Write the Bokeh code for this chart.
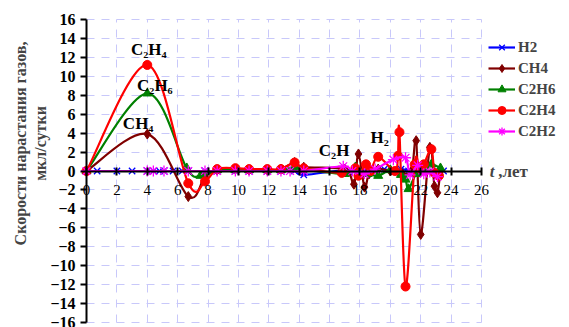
import math
from bokeh.plotting import figure
from bokeh.models import Range1d, FixedTicker, Label, Legend, LegendItem
from bokeh.embed import file_html
from bokeh.resources import INLINE

# ---------------- data ----------------
H2_t = [0, 0.7, 2, 3, 4, 4.4, 4.8, 5.1, 5.7, 6.3, 6.7, 7.8, 8.6, 9.8, 10.7, 11.9, 12.8, 13.7, 14.3,
        17, 17.6, 18.3, 19.0, 19.6, 20.2, 20.7, 21.2, 21.6, 22.0, 22.5, 23.0, 23.5]
H2_v = [0, 0, 0, 0, 0, 0, 0, 0, 0, 0, 0, 0, 0, 0, 0, 0, 0, 0, -0.4,
        0.1, -0.1, 0.0, 0.1, 0.2, -0.1, 0.2, 0.0, -0.2, 0.1, -0.1, 0.1, 0.0]

CH4_t = [0, 4, 6.7, 7.8, 8.6, 9.8, 10.7, 11.9, 12.8, 13.7, 14.3, 17, 17.6, 17.9, 18.3, 18.6,
         19.2, 20.0, 20.8, 21.4, 21.7, 22.0, 22.6, 22.9, 23.1, 23.3]
CH4_v = [0, 3.9, -2.7, -0.6, 0.1, 0.2, 0.1, 0.1, 0.2, 0.9, 0.4, 0.2, -1.4, 1.8, -1.7, -0.3,
         0.2, 0.0, -0.3, 0.0, 3.2, -6.7, 2.5, -1.6, -2.3, 0.0]

C2H6_t = [0, 4, 6.6, 7.5, 8.6, 9.8, 10.7, 11.9, 12.8, 13.7, 14.3, 17, 17.7, 18.5, 19.2, 20.0,
          20.7, 21.0, 21.2, 21.7, 22.2, 22.7, 23.3]
C2H6_v = [0, 8.2, 0.3, -0.5, 0.1, 0.1, 0.1, 0.1, 0.1, 0.4, 0.2, -0.3, 0.4, -0.3, -0.5, 0.1,
          -0.4, -0.9, -1.9, -0.3, 0.0, 0.7, 0.3]

C2H4_t = [0, 4, 6.7, 7.8, 8.6, 9.8, 10.7, 11.9, 12.8, 13.7, 14.3, 16.8, 17.7, 17.9, 18.4, 18.7,
          19.2, 20.3, 20.5, 20.6, 21.0, 21.6, 21.9, 22.2, 22.7, 22.9, 23.2]
C2H4_v = [0, 11.2, -1.3, -1.1, 0.2, 0.3, 0.2, 0.2, 0.2, 0.9, 0.3, -0.2, 0.3, -0.5, 0.7, 0.0,
          1.5, 0.0, 1.6, 4.1, -12.2, 0.7, 0.3, 0.7, 2.3, -0.2, -0.5]

C2H2_t = [0, 4, 4.4, 5.1, 6.7, 7.8, 8.6, 9.8, 10.7, 11.9, 12.8, 13.4, 14.3, 16.9, 17.5, 18.3,
          19.0, 20.2, 21.0, 21.3, 21.8, 22.2, 22.6, 23.1]
C2H2_v = [0, 0, 0, 0, 0, 0, 0, 0, 0, 0, 0, 0, 0, 0.5, 0.0, -0.3,
          0.2, 1.2, 1.4, -0.4, 0.6, -0.3, -0.1, -0.6]

series_names = ["H2", "CH4", "C2H6", "C2H4", "C2H2"]
x_ticks = list(range(0, 27, 2))
y_ticks = list(range(-16, 17, 2))

# ---------------- figure ----------------
W, H = 569, 327
X0_PX, X26_PX = 86, 481       # pixel positions of t=0 and t=26
YT_PX, YB_PX = 19, 322        # pixel positions of +16 and -16
xs = (X26_PX - X0_PX) / 26.0
ys = (YB_PX - YT_PX) / 32.0
xr = Range1d(-X0_PX / xs, (W - X0_PX) / xs)
yr = Range1d(-16 - (H - YB_PX) / ys, 16 + YT_PX / ys)

SERIF = "Liberation Serif"
p = figure(width=W, height=H, output_backend="svg", toolbar_location=None,
           x_range=xr, y_range=yr,
           min_border_left=0, min_border_right=0, min_border_top=0, min_border_bottom=0)
p.outline_line_color = None
p.background_fill_color = "white"
p.border_fill_color = "white"

for g in (p.xgrid, p.ygrid):
    g.grid_line_color = "#c8c8fa"
    g.grid_line_dash = "8 7"
    g.grid_line_width = 1
p.xgrid.ticker = FixedTicker(ticks=x_ticks)
p.ygrid.ticker = FixedTicker(ticks=y_ticks)
p.xgrid.bounds = (0, 26)
p.xgrid.cross_bounds = (-16, 16)
p.ygrid.bounds = (-16, 16)
p.ygrid.cross_bounds = (0, 26)

xa = p.xaxis[0]
xa.fixed_location = 0
xa.bounds = (0, 26)
xa.ticker = FixedTicker(ticks=x_ticks)
xa.axis_line_width = 2
xa.axis_line_color = "black"
xa.major_tick_line_width = 2
xa.major_tick_in = 4
xa.major_tick_out = 4
xa.minor_tick_line_color = None
xa.major_label_text_font = SERIF
xa.major_label_text_font_size = "15px"
xa.major_label_standoff = 10
xa.major_label_text_color = "black"

ya = p.yaxis[0]
ya.fixed_location = 0
ya.bounds = (-16, 16)
ya.ticker = FixedTicker(ticks=y_ticks)
ya.axis_line_width = 2
ya.axis_line_color = "black"
ya.major_tick_line_width = 2
ya.major_tick_in = 0
ya.major_tick_out = 6
ya.minor_tick_line_color = None
ya.major_label_text_font = SERIF
ya.major_label_text_font_style = "bold"
ya.major_label_text_font_size = "16px"
ya.major_label_standoff = 5
ya.major_label_text_color = "black"


def bezier_parts(t, v):
    n = len(t)
    x0, y0, x1, y1, cx0, cy0, cx1, cy1 = [], [], [], [], [], [], [], []
    for i in range(n - 1):
        pr = i - 1 if i > 0 else 0
        nx = i + 2 if i + 2 < n else n - 1
        x0.append(t[i]); y0.append(v[i]); x1.append(t[i + 1]); y1.append(v[i + 1])
        cx0.append(t[i] + (t[i + 1] - t[pr]) / 6.0)
        cy0.append(v[i] + (v[i + 1] - v[pr]) / 6.0)
        cx1.append(t[i + 1] - (t[nx] - t[i]) / 6.0)
        cy1.append(v[i + 1] - (v[nx] - v[i]) / 6.0)
    return dict(x0=x0, y0=y0, x1=x1, y1=y1, cx0=cx0, cy0=cy0, cx1=cx1, cy1=cy1)


styles = [
    (H2_t, H2_v, "#0000ff", "x", 9),
    (CH4_t, CH4_v, "#800000", "diamond", 10),
    (C2H6_t, C2H6_v, "#008000", "triangle", 9),
    (C2H4_t, C2H4_v, "#ff0000", "circle", 9),
    (C2H2_t, C2H2_v, "#ff00ff", "asterisk", 11),
]

items = []
for name, (t, v, col, mk, sz) in zip(series_names, styles):
    b = bezier_parts(t, v)
    r1 = p.bezier(line_color=col, line_width=2.2, **b)
    if mk in ("x", "asterisk"):
        r2 = p.scatter(t, v, marker=mk, size=sz, line_color=col, line_width=1.3)
    else:
        r2 = p.scatter(t, v, marker=mk, size=sz, fill_color=col, line_color=col)
    items.append(LegendItem(label=name, renderers=[r1, r2]))

legend = Legend(items=items, location=(488, 186), border_line_color=None,
                background_fill_alpha=0, label_text_font=SERIF, label_text_font_style="bold",
                label_text_font_size="15px", glyph_width=27, glyph_height=20, label_height=20,
                spacing=1, padding=5, margin=0, label_standoff=3)
p.add_layout(legend, "center")

# annotations
ann = [("C\u2082H\u2084", 4.1, 12.8), ("C\u2082H\u2086", 4.5, 9.0), ("CH\u2084", 3.4, 5.0),
       ("C\u2082H", 16.3, 2.2), ("H\u2082", 19.3, 3.5)]
for txt, ax, ay in ann:
    p.add_layout(Label(x=ax, y=ay, text=txt, text_font=SERIF, text_font_style="bold",
                       text_font_size="17px", text_align="center", text_baseline="middle",
                       text_color="black"))

p.add_layout(Label(x=26.55, y=0, text="t", text_font=SERIF, text_font_style="bold italic",
                   text_font_size="17px", text_align="left", text_baseline="middle"))
p.add_layout(Label(x=27.1, y=0, text=" ,лет", text_font=SERIF, text_font_style="bold",
                   text_font_size="17px", text_align="left", text_baseline="middle"))

# y axis title (two lines)
p.add_layout(Label(x=20, y=H - 143, x_units="screen", y_units="screen",
                   text="Скорости нарастания газов,", angle=math.pi / 2,
                   text_font=SERIF, text_font_style="bold", text_font_size="16px",
                   text_align="center", text_baseline="middle"))
p.add_layout(Label(x=40, y=H - 143, x_units="screen", y_units="screen",
                   text="мкл/сутки", angle=math.pi / 2,
                   text_font=SERIF, text_font_style="bold", text_font_size="16px",
                   text_align="center", text_baseline="middle"))

open("out.html", "w").write(file_html(p, INLINE))
